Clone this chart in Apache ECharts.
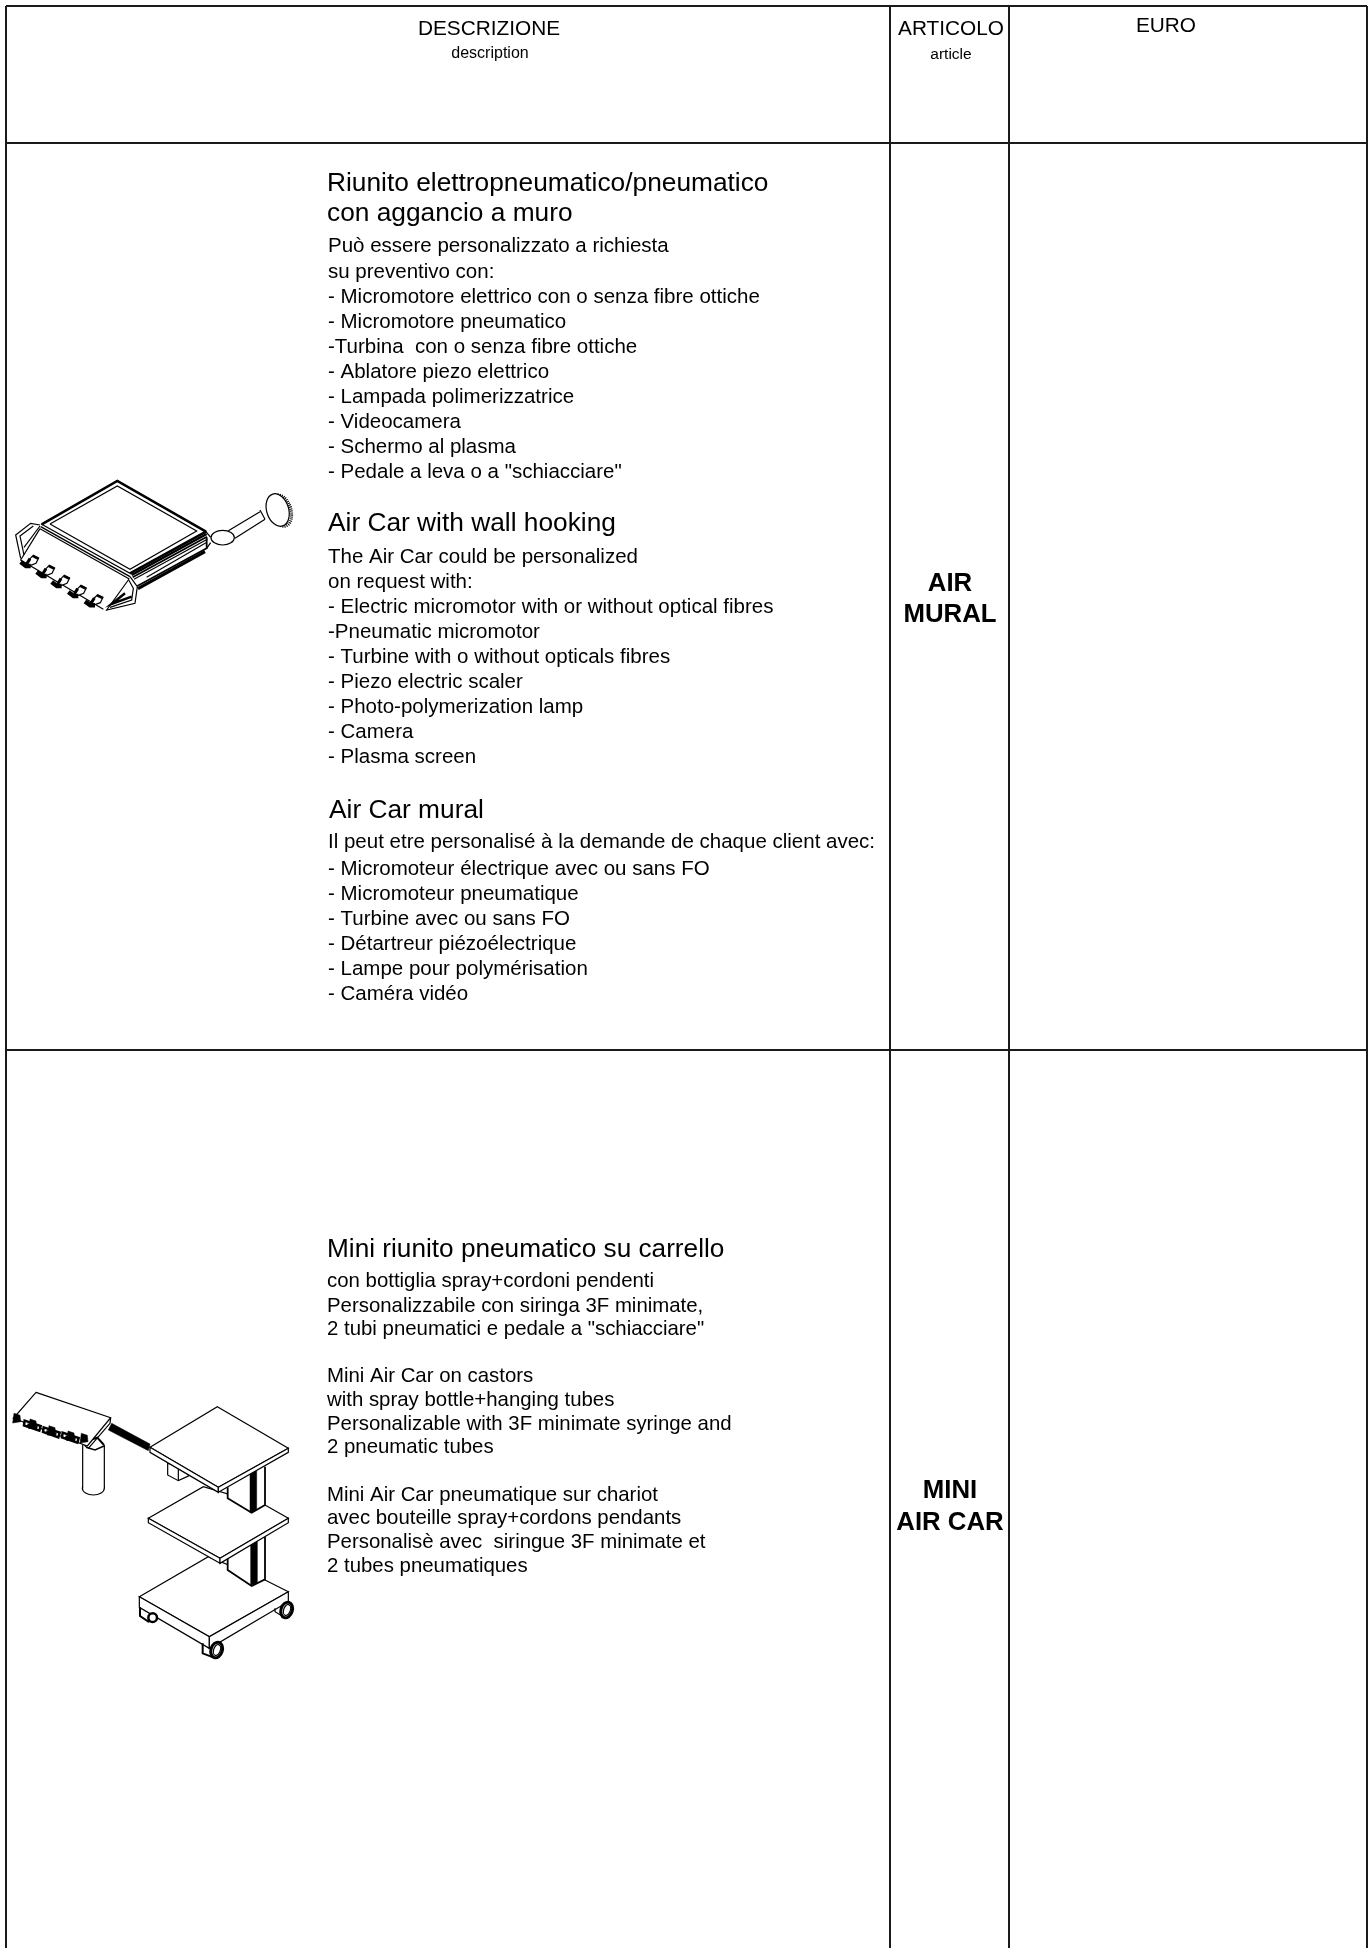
<!DOCTYPE html>
<html>
<head>
<meta charset="utf-8">
<title>Air Car</title>
<style>
	html, body { margin: 0; background: #fff; }
	#main { width: 1369px; height: 1948px; }
</style>
<script src="https://cdn.jsdelivr.net/npm/echarts@6/dist/echarts.min.js"></script>
</head>
<body>
<div id="main"></div>
<script>
// table text
var headerTexts = ['DESCRIZIONE', 'description', 'ARTICOLO', 'article', 'EURO'];
var articleMural = ['AIR', 'MURAL'];
var articleMini = ['MINI', 'AIR CAR'];

var muralHeadIt = ['Riunito elettropneumatico/pneumatico', 'con aggancio a muro'];
var muralBodyIt = [
	'Può essere personalizzato a richiesta',
	'su preventivo con:',
	'- Micromotore elettrico con o senza fibre ottiche',
	'- Micromotore pneumatico',
	'-Turbina  con o senza fibre ottiche',
	'- Ablatore piezo elettrico',
	'- Lampada polimerizzatrice',
	'- Videocamera',
	'- Schermo al plasma',
	'- Pedale a leva o a "schiacciare"'
];
var muralHeadEn = ['Air Car with wall hooking'];
var muralBodyEn = [
	'The Air Car could be personalized',
	'on request with:',
	'- Electric micromotor with or without optical fibres',
	'-Pneumatic micromotor',
	'- Turbine with o without opticals fibres',
	'- Piezo electric scaler',
	'- Photo-polymerization lamp',
	'- Camera',
	'- Plasma screen'
];
var muralHeadFr = ['Air Car mural'];
var muralBodyFr = [
	'Il peut etre personalisé à la demande de chaque client avec:',
	'- Micromoteur électrique avec ou sans FO',
	'- Micromoteur pneumatique',
	'- Turbine avec ou sans FO',
	'- Détartreur piézoélectrique',
	'- Lampe pour polymérisation',
	'- Caméra vidéo'
];
var miniHead = ['Mini riunito pneumatico su carrello'];
var miniBodyIt = [
	'con bottiglia spray+cordoni pendenti',
	'Personalizzabile con siringa 3F minimate,',
	'2 tubi pneumatici e pedale a "schiacciare"'
];
var miniBodyEn = [
	'Mini Air Car on castors',
	'with spray bottle+hanging tubes',
	'Personalizable with 3F minimate syringe and',
	'2 pneumatic tubes'
];
var miniBodyFr = [
	'Mini Air Car pneumatique sur chariot',
	'avec bouteille spray+cordons pendants',
	'Personalisè avec  siringue 3F minimate et',
	'2 tubes pneumatiques'
];

// baselines
var muralHeadItY = [191, 221];
var muralBodyItY = [252, 278, 303, 328, 353, 378, 403, 428, 453, 478];
var muralHeadEnY = [531];
var muralBodyEnY = [563, 588, 613, 638, 663, 688, 713, 738, 763];
var muralHeadFrY = [818];
var muralBodyFrY = [848, 875, 900, 925, 950, 975, 1000];
var miniHeadY = [1257];
var miniBodyItY = [1287, 1312, 1335];
var miniBodyEnY = [1382, 1406, 1430, 1453];
var miniBodyFrY = [1501, 1524, 1548, 1572];

// table rules
var ruleX = [6, 890, 1009, 1367];
var ruleY = [6, 143, 1050];
var pageW = 1369, pageH = 1948;

var FONT = '"Liberation Sans", Arial, sans-serif';

function textRows(lines, ys, x, size, align, weight) {
	return lines.map(function(t, i) {
		return { text: t, x: x, y: ys[i], size: size, align: align || 'left', weight: weight || 'normal' };
	});
}

var labelRows = [].concat(
	textRows([headerTexts[0]], [35], 489, 20.8, 'center'),
	textRows([headerTexts[1]], [58], 490, 16, 'center'),
	textRows([headerTexts[2]], [35], 951, 20.8, 'center'),
	textRows([headerTexts[3]], [59], 951, 15.5, 'center'),
	textRows([headerTexts[4]], [32], 1166, 20.8, 'center'),
	textRows(articleMural, [591, 622], 950, 25.8, 'center', 'bold'),
	textRows(articleMini, [1498, 1530], 950, 25.8, 'center', 'bold'),
	textRows(muralHeadIt, muralHeadItY, 327, 26.3),
	textRows(muralBodyIt, muralBodyItY, 328, 20.5),
	textRows(muralHeadEn, muralHeadEnY, 328, 26.3),
	textRows(muralBodyEn, muralBodyEnY, 328, 20.5),
	textRows(muralHeadFr, muralHeadFrY, 329, 26.3),
	textRows(muralBodyFr, muralBodyFrY, 328, 20.5),
	textRows(miniHead, miniHeadY, 327, 26.2),
	textRows(miniBodyIt, miniBodyItY, 327, 20.4),
	textRows(miniBodyEn, miniBodyEnY, 327, 20.4),
	textRows(miniBodyFr, miniBodyFrY, 327, 20.4)
);

var ruleSegs = [
	[ruleX[0], ruleY[0], ruleX[3], ruleY[0]],
	[ruleX[0], ruleY[1], ruleX[3], ruleY[1]],
	[ruleX[0], ruleY[2], ruleX[3], ruleY[2]],
	[ruleX[0], ruleY[0], ruleX[0], pageH],
	[ruleX[1], ruleY[0], ruleX[1], pageH],
	[ruleX[2], ruleY[0], ruleX[2], pageH],
	[ruleX[3], ruleY[0], ruleX[3], pageH]
];

// drawings are traced on 3x crops, these map them back to the page
var muralOrigin = [0, 460];
var cartOrigin = [0, 1370];

function line(pts, w) { return { pts: pts, w: w || 1.2 }; }
function shape(pts, w) { return { pts: pts, w: w === undefined ? 1.2 : w, fill: '#fff', closed: true }; }
function solid(pts) { return { pts: pts, w: 0.5, fill: '#000', closed: true }; }
function oval(cx, cy, rx, ry, rot, w, dash) { return { oval: [cx, cy, rx, ry, rot || 0], w: w || 1.2, fill: '#fff', dash: dash }; }
function shift(pts, o) { return pts.map(function(p) { return [p[0] + o[0], p[1] + o[1]]; }); }

var muralKnobOrigins = [[62, 296], [110, 326], [155, 356], [205, 386], [255, 414]];
var muralArt = [
	line([[685, 212], [780, 155]]),
	line([[705, 235], [795, 178]]),
	line([[780, 150], [795, 178]]),
	oval(843, 152, 30, 48, 0.3, 3, [1, 1]),
	oval(833, 150, 33, 50, 0.3),
	oval(668, 233, 35, 22, 0),
	line([[618, 215], [632, 232]]),
	line([[620, 265], [632, 248]]),
	shape([[125, 193], [352, 63], [618, 215], [390, 340]]),
	line([[125, 193], [352, 63], [618, 215]], 2.5),
	line([[150, 192], [352, 78], [590, 213], [390, 328], [150, 192]]),
	line([[618, 215], [390, 340]], 2.5),
	line([[122, 200], [390, 350]], 1.4),
	line([[120, 206], [388, 357]], 1.2),
	line([[395, 345], [620, 222]], 2.5),
	line([[398, 352], [621, 230]], 1.8),
	line([[402, 358], [622, 238]], 1.2),
	line([[620, 232], [620, 265], [412, 378]], 1.8),
	line([[414, 386], [615, 275]], 3),
	line([[440, 352], [618, 248]], 1.2),
	line([[120, 195], [92, 190], [47, 225], [62, 295]]),
	line([[100, 198], [60, 228], [72, 285]]),
	line([[120, 198], [72, 262]]),
	line([[120, 206], [62, 300], [310, 448]]),
	line([[390, 350], [412, 380], [405, 430], [320, 450], [385, 360]]),
	line([[385, 358], [400, 385], [395, 420], [330, 442]]),
	line([[375, 400], [335, 432], [395, 410]], 2.5)
];
muralKnobOrigins.forEach(function(o) {
	muralArt.push(shape(shift([[28, 0], [38, -10], [54, -2], [46, 14], [30, 20], [18, 18]], o)));
	muralArt.push(line(shift([[0, 10], [16, 22], [30, 22]], o), 4.5));
	muralArt.push(line(shift([[28, 0], [18, 16]], o), 3));
	muralArt.push(line(shift([[36, -8], [52, 0]], o), 2.5));
});

var cartKnobOrigins = [[50, 145], [98, 162], [155, 182], [212, 198], [252, 205]];
var cartArt = [
	// bottle
	oval(280, 355, 33, 20, 0),
	shape([[249, 225], [312, 225], [312, 354], [249, 354]], 0),
	line([[248, 225], [248, 355]]),
	line([[313, 225], [313, 355]]),
	line([[255, 230], [268, 210], [292, 203], [312, 225]], 2),
	line([[258, 232], [285, 240], [312, 228]], 1.5),
	// hose
	solid([[335, 160], [450, 222], [445, 242], [325, 180]]),
	// tray
	shape([[108, 67], [332, 143], [262, 228], [40, 145]]),
	line([[332, 143], [330, 160], [265, 235]]),
	// back box
	shape([[503, 280], [503, 315], [535, 332], [565, 318], [565, 290]]),
	line([[535, 295], [535, 332]]),
	// lower column and base
	shape([[418, 680], [625, 560], [795, 630], [865, 665], [628, 800]]),
	shape([[418, 680], [418, 712], [628, 835], [628, 800]]),
	shape([[628, 800], [628, 835], [865, 695], [865, 665]]),
	shape([[683, 500], [795, 500], [795, 628], [755, 648], [683, 600]], 0),
	line([[683, 565], [683, 600], [755, 648], [795, 628], [795, 500]], 1.8),
	solid([[752, 515], [772, 505], [772, 640], [752, 646]]),
	line([[760, 510], [760, 648]], 1.2),
	// mid shelf
	shape([[445, 445], [610, 350], [795, 405], [865, 445], [660, 565]]),
	shape([[445, 445], [445, 458], [660, 580], [660, 565]]),
	shape([[660, 565], [660, 580], [865, 458], [865, 445]]),
	// upper column
	shape([[683, 290], [795, 290], [795, 405], [755, 428], [683, 385]], 0),
	line([[683, 352], [683, 385], [755, 428], [795, 405], [795, 290]], 1.8),
	solid([[750, 305], [770, 295], [770, 420], [750, 428]]),
	line([[757, 300], [757, 428]]),
	// top shelf
	shape([[652, 110], [865, 235], [655, 352], [450, 232]]),
	shape([[450, 232], [450, 247], [655, 367], [655, 352]]),
	shape([[655, 352], [655, 367], [865, 247], [865, 235]]),
	// casters
	line([[420, 712], [420, 738], [445, 755], [470, 745]], 2),
	oval(458, 743, 13, 13, 0, 2.5),
	line([[825, 715], [825, 725], [850, 740]]),
	oval(860, 720, 17, 24, -0.3, 3),
	oval(861, 720, 10, 17, -0.3),
	line([[608, 820], [608, 850], [640, 862]], 2),
	oval(650, 840, 17, 24, -0.3, 3),
	oval(651, 840, 10, 17, -0.3)
];
cartKnobOrigins.forEach(function(o, i) {
	if (i > 0 && i < 4) {
		cartArt.push(shape(shift([[-24, -10], [24, 6], [20, 20], [-26, 4]], o), 2.5));
		cartArt.push(line(shift([[-16, 2], [14, 12]], o), 3));
	}
	cartArt.push(solid(shift([[-8, -15], [10, -9], [12, 10], [-12, 14]], o)));
});

function pageItems(art, origin) {
	return art.map(function(a) {
		var out = { w: a.w, fill: a.fill, dash: a.dash, closed: a.closed };
		if (a.oval) {
			out.oval = [origin[0] + a.oval[0] / 3, origin[1] + a.oval[1] / 3, a.oval[2] / 3, a.oval[3] / 3, a.oval[4]];
		} else {
			out.pts = a.pts.map(function(p) { return [origin[0] + p[0] / 3, origin[1] + p[1] / 3]; });
		}
		return out;
	});
}
var artItems = pageItems(muralArt, muralOrigin).concat(pageItems(cartArt, cartOrigin));

function indexData(list) {
	return list.map(function(_, i) { return [i, 0]; });
}

var option = {
	animation: false,
	backgroundColor: '#fff',
	grid: { left: 0, right: 0, top: 0, bottom: 0 },
	xAxis: { type: 'value', min: 0, max: pageW, show: false },
	yAxis: { type: 'value', min: 0, max: pageH, inverse: true, show: false },
	series: [{
		name: 'rules',
		type: 'custom',
		silent: true,
		data: indexData(ruleSegs),
		renderItem: function(params, api) {
			var s = ruleSegs[api.value(0)];
			var a = api.coord([s[0], s[1]]);
			var b = api.coord([s[2], s[3]]);
			return {
				type: 'line',
				shape: { x1: a[0], y1: a[1], x2: b[0], y2: b[1] },
				style: { stroke: '#1a1a1a', lineWidth: 2 }
			};
		}
	}, {
		name: 'drawings',
		type: 'custom',
		silent: true,
		data: indexData(artItems),
		renderItem: function(params, api) {
			var a = artItems[api.value(0)];
			if (a.oval) {
				var c = api.coord([a.oval[0], a.oval[1]]);
				return {
					type: 'ellipse',
					x: c[0],
					y: c[1],
					rotation: a.oval[4],
					shape: { cx: 0, cy: 0, rx: a.oval[2], ry: a.oval[3] },
					style: { fill: a.fill, stroke: '#000', lineWidth: a.w, lineDash: a.dash || null }
				};
			}
			var pts = a.pts.map(function(p) { return api.coord(p); });
			return {
				type: a.closed ? 'polygon' : 'polyline',
				shape: { points: pts },
				style: { fill: a.fill || 'none', stroke: a.w ? '#000' : 'none', lineWidth: a.w }
			};
		}
	}, {
		name: 'labels',
		type: 'custom',
		silent: true,
		data: indexData(labelRows),
		renderItem: function(params, api) {
			var r = labelRows[api.value(0)];
			var p = api.coord([r.x, r.y]);
			return {
				type: 'text',
				x: p[0],
				y: p[1] - r.size * 0.28,
				style: {
					text: r.text,
					fill: '#000',
					font: r.weight + ' ' + r.size + 'px ' + FONT,
					textAlign: r.align,
					textVerticalAlign: 'middle'
				}
			};
		}
	}]
};

var myChart = echarts.init(document.getElementById('main'), null, { renderer: 'canvas' });
myChart.setOption(option);
</script>
</body>
</html>
